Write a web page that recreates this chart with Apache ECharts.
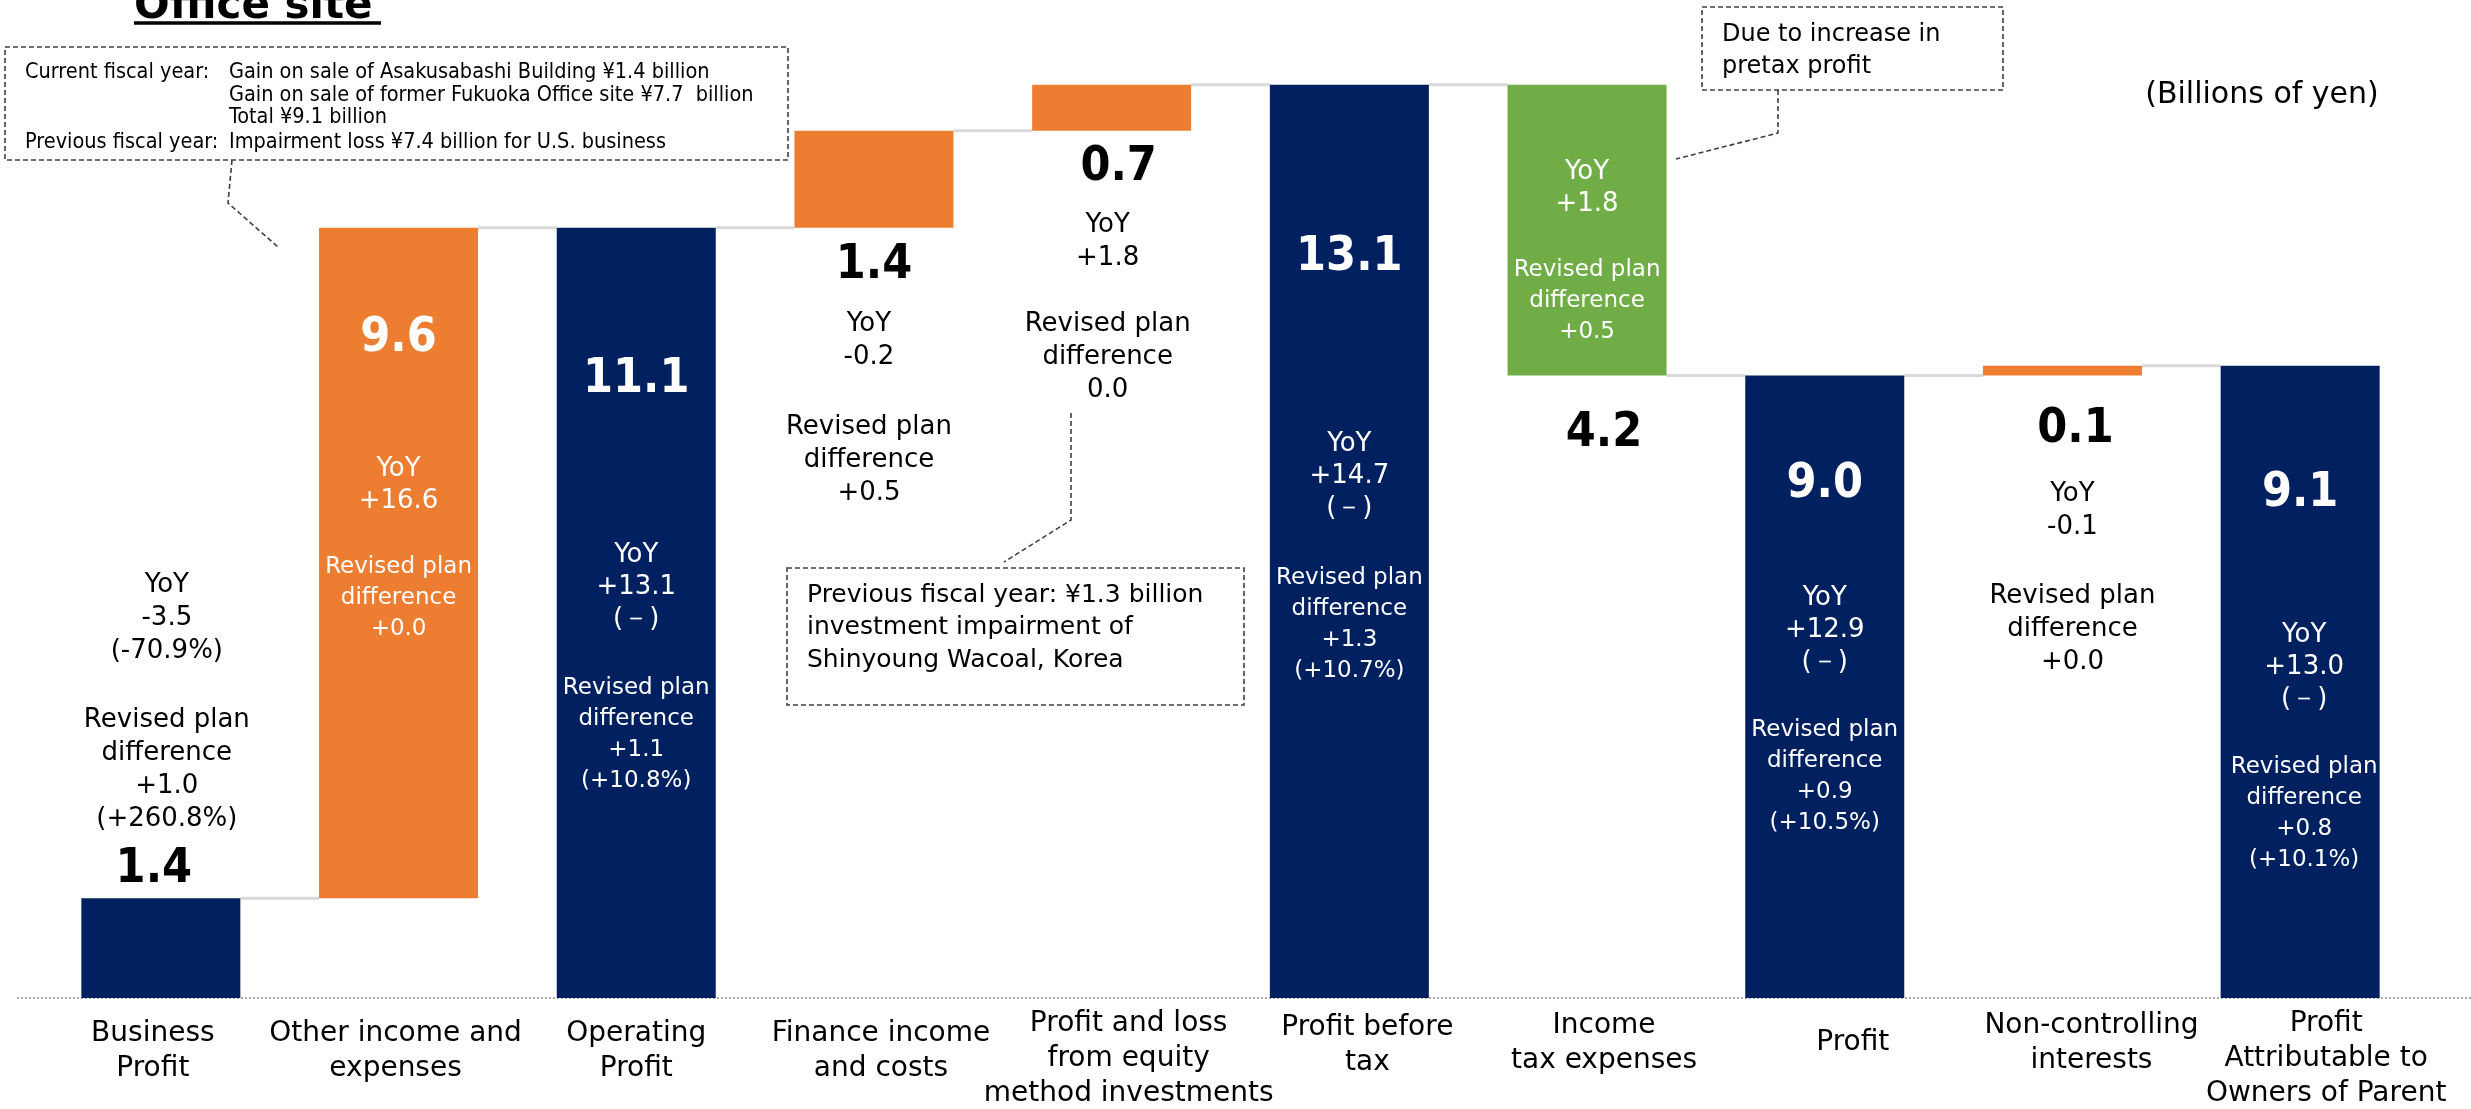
<!DOCTYPE html>
<html>
<head>
<meta charset="utf-8">
<script src="https://cdn.jsdelivr.net/npm/echarts/dist/echarts.min.js"></script>
<style>
html,body{margin:0;padding:0;background:#fff;}
#chart{width:2471px;height:1109px;}
</style>
</head>
<body>
<div id="chart"></div>
<script>
// ---------------- data ----------------
const categories = [
  'Business\nProfit',
  'Other income and\nexpenses',
  'Operating\nProfit',
  'Finance income\nand costs',
  'Profit and loss\nfrom equity\nmethod investments',
  'Profit before\ntax',
  'Income\ntax expenses',
  'Profit',
  'Non-controlling\ninterests',
  'Profit\nAttributable to\nOwners of Parent'
];
const barKinds = ['total', 'increase', 'total', 'increase', 'increase', 'total', 'decrease', 'total', 'increase', 'total'];
const barValues = [1.43, 9.62, 11.05, 1.39, 0.66, 13.10, 4.17, 8.93, 0.14, 9.07];
const valueLabels = ['1.4', '9.6', '11.1', '1.4', '0.7', '13.1', '4.2', '9.0', '0.1', '9.1'];
const yoyTexts = [
  ['YoY', '-3.5', '(-70.9%)'],
  ['YoY', '+16.6'],
  ['YoY', '+13.1', '(－)'],
  ['YoY', '-0.2'],
  ['YoY', '+1.8'],
  ['YoY', '+14.7', '(－)'],
  ['YoY', '+1.8'],
  ['YoY', '+12.9', '(－)'],
  ['YoY', '-0.1'],
  ['YoY', '+13.0', '(－)']
];
const planTexts = [
  ['Revised plan', 'difference', '+1.0', '(+260.8%)'],
  ['Revised plan', 'difference', '+0.0'],
  ['Revised plan', 'difference', '+1.1', '(+10.8%)'],
  ['Revised plan', 'difference', '+0.5'],
  ['Revised plan', 'difference', '0.0'],
  ['Revised plan', 'difference', '+1.3', '(+10.7%)'],
  ['Revised plan', 'difference', '+0.5'],
  ['Revised plan', 'difference', '+0.9', '(+10.5%)'],
  ['Revised plan', 'difference', '+0.0'],
  ['Revised plan', 'difference', '+0.8', '(+10.1%)']
];
const unitText = '(Billions of yen)';
const titleText = 'Office site';
const note1Left = ['Current fiscal year:', 'Previous fiscal year:'];
const note1Right = [
  'Gain on sale of Asakusabashi Building ¥1.4 billion',
  'Gain on sale of former Fukuoka Office site ¥7.7  billion',
  'Total ¥9.1 billion',
  'Impairment loss ¥7.4 billion for U.S. business'
];
const note2Lines = ['Previous fiscal year: ¥1.3 billion', 'investment impairment of', 'Shinyoung Wacoal, Korea'];
const note3Lines = ['Due to increase in', 'pretax profit'];

// ---------------- styles ----------------
const FONT = "'DejaVu Sans', 'Noto Sans', sans-serif";
const CFONT = "'DejaVu Sans Condensed', 'DejaVu Sans', sans-serif";
const BIGFONT = CFONT;
const COLORS = { total: '#002060', increase: '#ED7D31', decrease: '#70AD47' };
const BAR_W = 159;

// waterfall geometry from values
const bases = [], levels = [];
let run = 0;
barValues.forEach((v, i) => {
  const k = barKinds[i];
  if (k === 'total') { bases.push(0); run = v; }
  else if (k === 'increase') { bases.push(run); run += v; }
  else { run -= v; bases.push(run); }
  levels.push(run);
});

// label layouts (style only)
const layouts = [
  { on: 'bar', pos: 'top', dist: 1, inside: false, bigLast: true, g1: 5.5, g2: 36, bigDx: -7, txtDx: 6 },
  { on: 'bar', pos: 'insideTop', dist: 83, inside: true, g1: 87, g2: 33.5 },
  { on: 'bar', pos: 'insideTop', dist: 124, inside: true, g1: 132, g2: 36.5 },
  { on: 'base', pos: 'insideTop', dist: 10, inside: false, g1: 14.5, g2: 37, txtDx: -5 },
  { on: 'base', pos: 'insideTop', dist: 9, inside: false, g1: 13, g2: 33, bigDx: 7, txtDx: -4 },
  { on: 'bar', pos: 'insideTop', dist: 145, inside: true, g1: 143, g2: 37.5 },
  { split: true, textDist: 72, g2: 33.5, bigDist: 30, bigDx: 17 },
  { on: 'bar', pos: 'insideTop', dist: 81, inside: true, g1: 70, g2: 36.5 },
  { on: 'base', pos: 'insideTop', dist: 26, inside: false, g1: 20.5, g2: 36, bigDx: 13, txtDx: 10 },
  { on: 'bar', pos: 'insideTop', dist: 100, inside: true, g1: 98, g2: 35.5, txtDx: 4 }
];

function pad(dx) { return dx > 0 ? [0, 0, 0, 2 * dx] : (dx < 0 ? [0, -2 * dx, 0, 0] : [0, 0, 0, 0]); }

function richStyles(inside, L) {
  const c = inside ? '#ffffff' : '#000000';
  return {
    big: { fontSize: 48, fontWeight: 'bold', fontFamily: BIGFONT, lineHeight: 56, color: c, padding: pad(L.bigDx || 0) },
    y: { fontSize: 26, fontFamily: FONT, lineHeight: inside ? 32 : 33, color: c, padding: pad(L.txtDx || 0) },
    p: { fontSize: inside ? 23 : 26, fontFamily: FONT, lineHeight: inside ? 31 : 33, color: c, padding: pad(L.txtDx || 0) },
    g1: { fontSize: 1, lineHeight: L.g1 || 1 },
    g2: { fontSize: 1, lineHeight: L.g2 || 1 }
  };
}
function lines(arr, s) { return arr.map(t => '{' + s + '|' + t + '}').join('\n'); }

const barData = [], baseData = [];
barValues.forEach((v, i) => {
  const L = layouts[i];
  const barItem = { value: v, itemStyle: { color: COLORS[barKinds[i]] } };
  const baseItem = { value: bases[i] };
  const big = '{big|' + valueLabels[i] + '}';
  const yoy = lines(yoyTexts[i], 'y');
  const plan = lines(planTexts[i], 'p');
  if (L.split) {
    barItem.label = {
      show: true, position: 'insideTop', distance: L.textDist,
      formatter: [yoy, '{g2| }', plan].join('\n'),
      rich: richStyles(true, L)
    };
    baseItem.label = {
      show: true, position: 'insideTop', distance: L.bigDist,
      formatter: big, rich: richStyles(false, L)
    };
  } else {
    const text = L.bigLast
      ? [yoy, '{g2| }', plan, '{g1| }', big].join('\n')
      : [big, '{g1| }', yoy, '{g2| }', plan].join('\n');
    const lab = { show: true, position: L.pos, distance: L.dist, formatter: text, rich: richStyles(L.inside, L) };
    if (L.on === 'bar') barItem.label = lab; else baseItem.label = lab;
  }
  barData.push(barItem);
  baseData.push(baseItem);
});

const connectorData = levels.slice(0, levels.length - 1).map((lv, i) => [i, lv]);

// axis label shifts (style only): horizontal offset and extra top offset, px
const labelDx = [-8, -3, 0, 7, 17, 18, 17, 28, 29, 26];
const labelTop = [13.5, 13.5, 13.5, 13.5, 3.5, 7, 5.5, 22.5, 5.5, 3.5];
const axisData = categories.map((c, i) => {
  const dx = labelDx[i];
  return {
    value: c,
    textStyle: {
      padding: [labelTop[i], Math.max(0, -2 * dx), 0, Math.max(0, 2 * dx)]
    }
  };
});

// ---------------- chart ----------------
const chart = echarts.init(document.getElementById('chart'), null, { renderer: 'canvas' });
const dashed = { stroke: '#404040', lineWidth: 1.6, lineDash: [5, 3], fill: null };
function txt(x, y, t, size, font, extra) {
  return { type: 'text', x: x, y: y, style: Object.assign({ text: t, fontSize: size, fontFamily: font, fill: '#000', textVerticalAlign: 'middle' }, extra || {}) };
}
const graphics = [
  // title fragment
  { type: 'text', x: 134, y: 28, style: { text: titleText, fontSize: 42, fontWeight: 'bold', fontFamily: FONT, fill: '#000', textAlign: 'left', textVerticalAlign: 'bottom' } },
  { type: 'line', shape: { x1: 134, y1: 23, x2: 381, y2: 23 }, style: { stroke: '#000', lineWidth: 3.5 } },
  // note 1
  { type: 'rect', shape: { x: 5, y: 47, width: 783, height: 113 }, style: Object.assign({}, dashed, { fill: '#fff' }) },
  txt(25, 72, note1Left[0], 21.5, CFONT),
  txt(25, 142, note1Left[1], 21.5, CFONT),
  txt(229, 72, note1Right[0], 21.5, CFONT),
  txt(229, 95, note1Right[1], 21.5, CFONT),
  txt(229, 117, note1Right[2], 21.5, CFONT),
  txt(229, 142, note1Right[3], 21.5, CFONT),
  { type: 'polyline', shape: { points: [[232, 160], [228, 203], [278, 247]] }, style: Object.assign({}, dashed) },
  // note 2
  { type: 'rect', shape: { x: 787, y: 568, width: 457, height: 137 }, style: Object.assign({}, dashed, { fill: '#fff' }) },
  txt(807, 595, note2Lines[0], 25, FONT),
  txt(807, 627, note2Lines[1], 25, FONT),
  txt(807, 660, note2Lines[2], 25, FONT),
  { type: 'polyline', shape: { points: [[1071, 413], [1071, 520], [1004, 562]] }, style: Object.assign({}, dashed) },
  // note 3
  { type: 'rect', shape: { x: 1702, y: 7, width: 301, height: 83 }, style: Object.assign({}, dashed, { fill: '#fff' }) },
  txt(1722, 35, note3Lines[0], 24, FONT),
  txt(1722, 67, note3Lines[1], 24, FONT),
  { type: 'polyline', shape: { points: [[1778, 90], [1778, 133], [1676, 159]] }, style: Object.assign({}, dashed) },
  // unit
  txt(2262, 95, unitText, 30, FONT, { textAlign: 'center' })
];

chart.setOption({
  animation: false,
  backgroundColor: '#ffffff',
  grid: { left: 42, right: 52, top: 22, bottom: 111, containLabel: false, outerBoundsMode: 'none' },
  xAxis: {
    type: 'category',
    data: axisData,
    axisTick: { show: false },
    axisLine: { show: false },
    axisLabel: {
      interval: 0, margin: 5, fontSize: 28, lineHeight: 35, color: '#000',
      fontFamily: FONT, verticalAlign: 'top', align: 'center'
    }
  },
  yAxis: {
    type: 'value', min: 0, max: 14, show: false,
    splitLine: { show: false }
  },
  series: [
    {
      type: 'custom', name: 'connector', silent: true, z: 1,
      data: connectorData,
      renderItem: function (params, api) {
        const i = api.value(0), lv = api.value(1);
        const a = api.coord([i, lv]);
        const b = api.coord([i + 1, lv]);
        return {
          type: 'line',
          shape: { x1: a[0] + BAR_W / 2, y1: a[1], x2: b[0] - BAR_W / 2, y2: b[1] },
          style: { stroke: '#D9D9D9', lineWidth: 3 }
        };
      }
    },
    {
      type: 'bar', name: 'base', stack: 'w', barWidth: BAR_W, silent: true, z: 2,
      itemStyle: { color: 'rgba(0,0,0,0)' },
      data: baseData
    },
    {
      type: 'bar', name: 'value', stack: 'w', barWidth: BAR_W, silent: true, z: 3,
      data: barData
    }
  ],
  graphic: graphics
});

// baseline (zero line of the value axis), extended across the slide width
const y0 = chart.convertToPixel({ yAxisIndex: 0 }, 0);
graphics.push({
  type: 'line', z: 0, shape: { x1: 17, y1: y0, x2: 2471, y2: y0 },
  style: { stroke: '#8c8c8c', lineWidth: 1.5, lineDash: [2, 2] }
});
chart.setOption({ graphic: graphics });
</script>
</body>
</html>
